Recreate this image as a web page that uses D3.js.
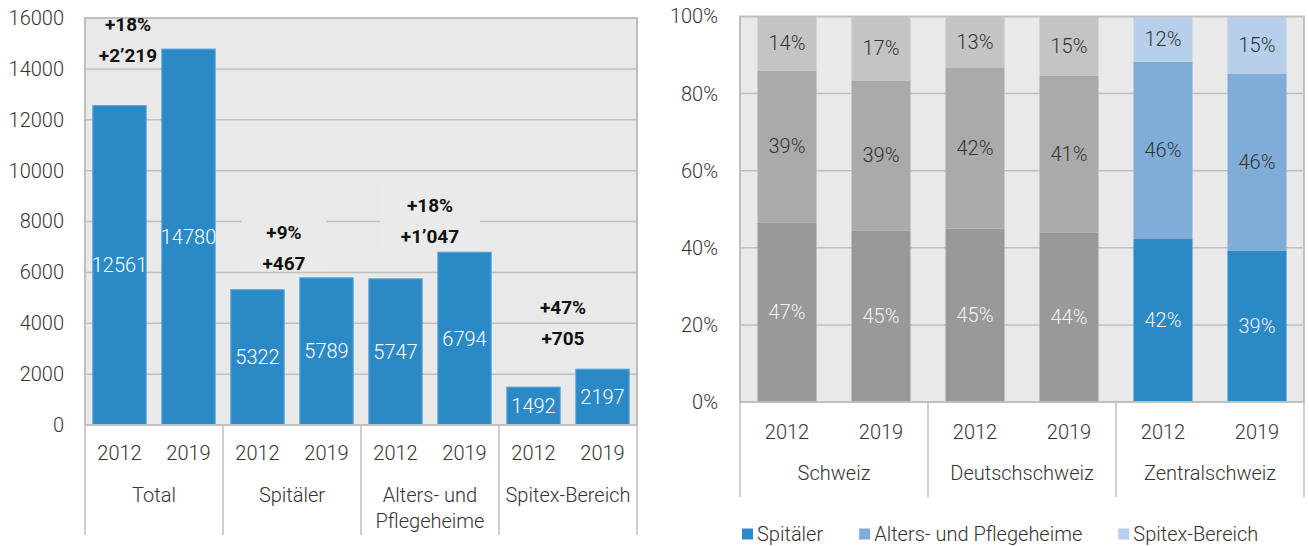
<!DOCTYPE html>
<html>
<head>
<meta charset="utf-8">
<script src="https://cdn.jsdelivr.net/npm/d3@7"></script>
<style>
  body { margin: 0; background: #fff; }
  text { font-family: Roboto, "Noto Sans", sans-serif; }
</style>
</head>
<body>
<div id="chart"></div>
<script>
// data, left chart
const groups = ["Total", "Spitäler", "Alters- und|Pflegeheime", "Spitex-Bereich"];
const years = ["2012", "2019"];
const values2012 = [12561, 5322, 5747, 1492];
const values2019 = [14780, 5789, 6794, 2197];
const changePct = ["+18%", "+9%", "+18%", "+47%"];
const changeAbs = ["+2’219", "+467", "+1’047", "+705"];
const leftTicks = [0, 2000, 4000, 6000, 8000, 10000, 12000, 14000, 16000];

// data, right chart (shares in %)
const regions = ["Schweiz", "Deutschschweiz", "Zentralschweiz"];
const shareSpitaeler = [46.6, 44.5, 45.0, 43.9, 42.3, 39.2];
const shareHeime     = [39.4, 38.9, 41.8, 40.8, 46.0, 46.0];
const shareSpitex    = [14.0, 16.6, 13.2, 15.3, 11.7, 14.8];
const rightTicks = [0, 20, 40, 60, 80, 100];
const seriesNames = ["Spitäler", "Alters- und Pflegeheime", "Spitex-Bereich"];

const w = 1309;
const h = 546;
const fontSize = 20;
const gridColor = "#bfbfbf";
const plotBg = "#e9e9e9";

const svg = d3.select("#chart")
    .append("svg")
    .attr("width", w)
    .attr("height", h);

// ---------- left chart ----------
const L = {left: 85, right: 637, top: 18, bottom: 425};

const bars = groups.flatMap((g, i) => years.map((y, j) => ({
  key: i + "-" + y, group: i, year: y, value: j ? values2019[i] : values2012[i]
})));

const xL = d3.scaleBand()
    .domain(bars.map(d => d.key))
    .range([L.left, L.right])
    .paddingInner(0.225)
    .paddingOuter(0.1125);

const yL = d3.scaleLinear()
    .domain([0, 16000])
    .range([L.bottom, L.top]);

svg.append("rect")
    .attr("x", L.left).attr("y", L.top)
    .attr("width", L.right - L.left).attr("height", L.bottom - L.top)
    .attr("fill", plotBg);

svg.append("g")
  .selectAll("line")
  .data(leftTicks.slice(1, -1))
  .join("line")
    .attr("x1", L.left).attr("x2", L.right)
    .attr("y1", d => yL(d)).attr("y2", d => yL(d))
    .attr("stroke", gridColor).attr("stroke-width", 1.5);

// label anchors (value units) for the change annotations, and which ones hide the grid
const annoAt = [14550, 6370, 7430, 3420];
const annoShift = [-26, -8, 0, -5];
const annoMask = [null, [85, 212, 271], [100, 185, 250], null];
const groupW = xL.step() * 2;
const groupCenter = i => L.left + groupW * (i + 0.5);

annoMask.forEach((m, i) => {
  if (!m) return;
  svg.append("rect")
      .attr("x", groupCenter(i) + annoShift[i] - m[0] / 2)
      .attr("y", m[1])
      .attr("width", m[0])
      .attr("height", m[2] - m[1])
      .attr("fill", "#eaeaea");
});

svg.append("g")
  .selectAll("rect")
  .data(bars)
  .join("rect")
    .attr("x", d => xL(d.key))
    .attr("y", d => yL(d.value))
    .attr("width", xL.bandwidth())
    .attr("height", d => yL(0) - yL(d.value))
    .attr("fill", "#2b8ac6")
    .attr("stroke", "#62a7da")
    .attr("stroke-width", 1);

svg.append("g")
  .selectAll("text")
  .data(bars)
  .join("text")
    .attr("x", d => xL(d.key) + xL.bandwidth() / 2)
    .attr("y", d => (yL(d.value) + yL(0)) / 2)
    .attr("dy", "0.35em")
    .attr("text-anchor", "middle")
    .attr("font-size", fontSize)
    .attr("font-weight", 300)
    .attr("fill", "#fff")
    .text(d => d.value);

// frame
svg.append("rect")
    .attr("x", L.left).attr("y", L.top)
    .attr("width", L.right - L.left).attr("height", L.bottom - L.top)
    .attr("fill", "none")
    .attr("stroke", gridColor).attr("stroke-width", 2);

// annotations
const anno = svg.append("g")
    .attr("font-size", 19)
    .attr("font-weight", 700)
    .attr("fill", "#111")
    .attr("text-anchor", "middle");

groups.forEach((g, i) => {
  const x = groupCenter(i) + annoShift[i];
  const y = yL(annoAt[i]);
  anno.append("text").attr("x", x).attr("y", y - 31).attr("dy", "0.35em").text(changePct[i]);
  anno.append("text").attr("x", x).attr("y", y).attr("dy", "0.35em").text(changeAbs[i]);
});

// y axis
const yAxisL = d3.axisLeft(yL)
    .tickValues(leftTicks)
    .tickFormat(d3.format("d"))
    .tickSize(0)
    .tickPadding(21);

svg.append("g")
    .attr("class", "yAxis")
    .attr("transform", `translate(${L.left}, 0)`)
    .call(yAxisL)
    .call(g => g.select(".domain").remove())
    .call(g => g.selectAll("text")
        .attr("font-size", fontSize).attr("font-weight", 300)
        .attr("font-family", null).attr("fill", "#333"));

// x axis: years
const xAxisL = d3.axisBottom(xL)
    .tickFormat(k => k.split("-")[1])
    .tickSize(0)
    .tickPadding(21);

svg.append("g")
    .attr("class", "xAxis")
    .attr("transform", `translate(0, ${L.bottom})`)
    .call(xAxisL)
    .call(g => g.select(".domain").remove())
    .call(g => g.selectAll("text")
        .attr("font-size", fontSize).attr("font-weight", 300)
        .attr("font-family", null).attr("fill", "#333"));

// group separators and labels
svg.append("g")
  .selectAll("line")
  .data(d3.range(groups.length + 1))
  .join("line")
    .attr("x1", i => L.left + i * groupW).attr("x2", i => L.left + i * groupW)
    .attr("y1", L.bottom).attr("y2", 535)
    .attr("stroke", gridColor).attr("stroke-width", 1.5);

const gLab = svg.append("g")
  .selectAll("text")
  .data(groups)
  .join("text")
    .attr("text-anchor", "middle")
    .attr("font-size", fontSize)
    .attr("font-weight", 300)
    .attr("fill", "#333");

gLab.selectAll("tspan")
  .data(d => d.split("|").map(t => ({t, g: d})))
  .join("tspan")
    .attr("x", d => groupCenter(groups.indexOf(d.g)))
    .attr("y", (d, j) => 495 + j * 26)
    .attr("dy", "0.35em")
    .text(d => d.t);

// ---------- right chart ----------
const R = {left: 740, right: 1304, top: 16.5, bottom: 402};

const cols = regions.flatMap(r => years.map(y => r + "-" + y));
const rows = cols.map((c, k) => ({
  key: c, s0: shareSpitaeler[k], s1: shareHeime[k], s2: shareSpitex[k], zentral: c.startsWith("Zentral")
}));
const stack = d3.stack().keys(["s0", "s1", "s2"])(rows);

const xR = d3.scaleBand()
    .domain(cols)
    .range([R.left, R.right])
    .paddingInner(0.372)
    .paddingOuter(0.186);

const yR = d3.scaleLinear()
    .domain([0, 100])
    .range([R.bottom, R.top]);

const grayCols = ["#999999", "#aaaaaa", "#c4c4c4"];
const blueCols = ["#2b8ac6", "#80acd8", "#b7cfeb"];
const labelCols = ["#f2f2f2", "#333", "#333"];

svg.append("rect")
    .attr("x", R.left).attr("y", R.top)
    .attr("width", R.right - R.left).attr("height", R.bottom - R.top)
    .attr("fill", plotBg);

svg.append("g")
  .selectAll("line")
  .data(rightTicks.slice(1, -1))
  .join("line")
    .attr("x1", R.left).attr("x2", R.right)
    .attr("y1", d => yR(d)).attr("y2", d => yR(d))
    .attr("stroke", gridColor).attr("stroke-width", 1.5);

const layers = svg.append("g")
  .selectAll("g")
  .data(stack)
  .join("g");

layers.selectAll("rect")
  .data(d => d.map(s => ({s, i: d.index})))
  .join("rect")
    .attr("x", d => xR(d.s.data.key))
    .attr("y", d => yR(d.s[1]))
    .attr("width", xR.bandwidth())
    .attr("height", d => yR(d.s[0]) - yR(d.s[1]))
    .attr("fill", d => d.s.data.zentral ? blueCols[d.i] : grayCols[d.i]);

layers.selectAll("text")
  .data(d => d.map(s => ({s, i: d.index})))
  .join("text")
    .attr("x", d => xR(d.s.data.key) + xR.bandwidth() / 2)
    .attr("y", d => (yR(d.s[0]) + yR(d.s[1])) / 2)
    .attr("dy", "0.35em")
    .attr("text-anchor", "middle")
    .attr("font-size", fontSize)
    .attr("font-weight", 300)
    .attr("fill", d => labelCols[d.i])
    .text(d => Math.round(d.s[1] - d.s[0]) + "%");

svg.append("rect")
    .attr("x", R.left).attr("y", R.top)
    .attr("width", R.right - R.left).attr("height", R.bottom - R.top)
    .attr("fill", "none")
    .attr("stroke", gridColor).attr("stroke-width", 2);

svg.append("g")
    .attr("transform", `translate(${R.left}, 0)`)
    .call(d3.axisLeft(yR).tickValues(rightTicks).tickFormat(d => d + "%").tickSize(0).tickPadding(22))
    .call(g => g.select(".domain").remove())
    .call(g => g.selectAll("text")
        .attr("font-size", fontSize).attr("font-weight", 300)
        .attr("font-family", null).attr("fill", "#333"));

svg.append("g")
    .attr("transform", `translate(0, ${R.bottom})`)
    .call(d3.axisBottom(xR).tickFormat(k => k.split("-")[1]).tickSize(0).tickPadding(23))
    .call(g => g.select(".domain").remove())
    .call(g => g.selectAll("text")
        .attr("font-size", fontSize).attr("font-weight", 300)
        .attr("font-family", null).attr("fill", "#333"));

const regionW = xR.step() * 2;

svg.append("g")
  .selectAll("line")
  .data(d3.range(regions.length + 1))
  .join("line")
    .attr("x1", i => R.left + i * regionW).attr("x2", i => R.left + i * regionW)
    .attr("y1", R.bottom).attr("y2", 497)
    .attr("stroke", gridColor).attr("stroke-width", 1.5);

svg.append("g")
  .selectAll("text")
  .data(regions)
  .join("text")
    .attr("x", (d, i) => R.left + regionW * (i + 0.5))
    .attr("y", 473)
    .attr("dy", "0.35em")
    .attr("text-anchor", "middle")
    .attr("font-size", fontSize)
    .attr("font-weight", 300)
    .attr("fill", "#333")
    .text(d => d);

// legend
const legend = svg.append("g").attr("transform", "translate(742, 534)");
let lx = 0;
seriesNames.forEach((name, i) => {
  legend.append("rect")
      .attr("x", lx).attr("y", -5.5)
      .attr("width", 11).attr("height", 11)
      .attr("fill", blueCols[i]);
  const t = legend.append("text")
      .attr("x", lx + 15)
      .attr("dy", "0.35em")
      .attr("font-size", fontSize)
      .attr("font-weight", 300)
      .attr("fill", "#333")
      .text(name);
  lx += 15 + t.node().getComputedTextLength() + 36;
});
</script>
</body>
</html>
